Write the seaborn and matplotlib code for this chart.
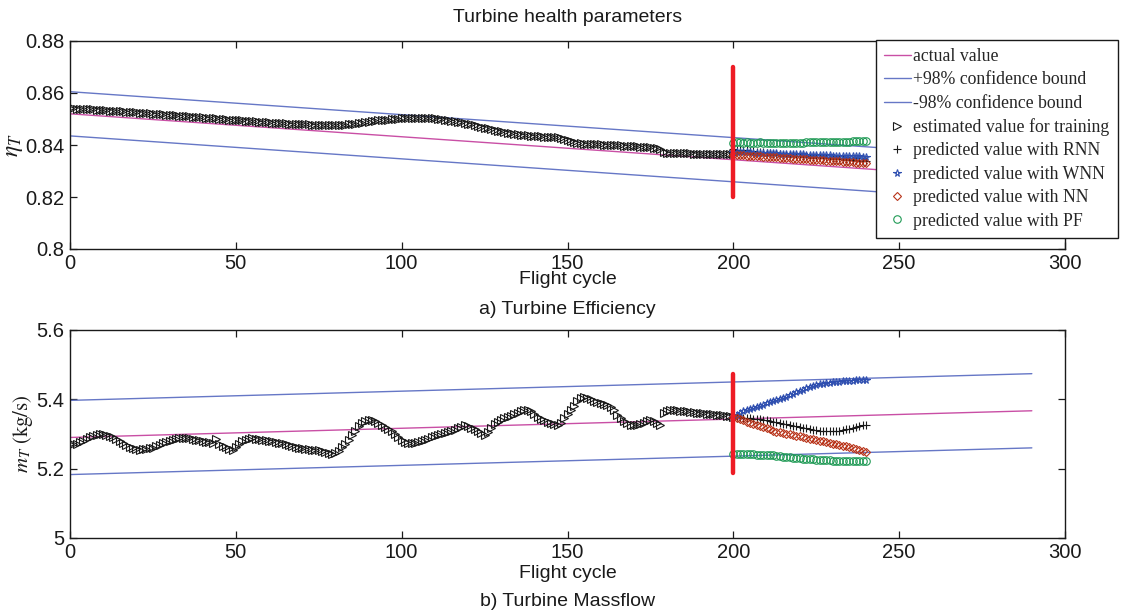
import matplotlib
matplotlib.use("Agg")
import matplotlib.pyplot as plt
import seaborn as sns
from matplotlib.ticker import FormatStrFormatter

sns.set_theme(style="ticks")
plt.rcParams["font.family"] = ["Liberation Sans", "DejaVu Sans"]
plt.rcParams["mathtext.fontset"] = "stix"

# ---------------- data ----------------
line_cycles = [0, 290]
eff_actual = [0.8520, 0.8264]
eff_upper = [0.8605, 0.8349]
eff_lower = [0.8435, 0.8179]
mass_actual = [5.290, 5.367]
mass_upper = [5.397, 5.474]
mass_lower = [5.183, 5.260]

train_cycles = list(range(0, 201))
eff_train = [
    0.8541, 0.8542, 0.8540, 0.8539, 0.8540, 0.8538, 0.8537, 0.8537, 0.8536, 0.8535, 0.8534,
    0.8533, 0.8532, 0.8531, 0.8531, 0.8530, 0.8529, 0.8528, 0.8527, 0.8527, 0.8526,
    0.8525, 0.8524, 0.8523, 0.8522, 0.8521, 0.8520, 0.8519, 0.8518, 0.8517, 0.8516,
    0.8515, 0.8514, 0.8513, 0.8512, 0.8511, 0.8510, 0.8509, 0.8508, 0.8507, 0.8506,
    0.8505, 0.8504, 0.8503, 0.8502, 0.8501, 0.8500, 0.8499, 0.8498, 0.8497, 0.8497,
    0.8496, 0.8495, 0.8494, 0.8493, 0.8492, 0.8491, 0.8490, 0.8489, 0.8488, 0.8487,
    0.8486, 0.8485, 0.8484, 0.8484, 0.8483, 0.8482, 0.8481, 0.8481, 0.8480, 0.8480,
    0.8479, 0.8479, 0.8478, 0.8478, 0.8477, 0.8477, 0.8477, 0.8476, 0.8476, 0.8476,
    0.8477, 0.8477, 0.8478, 0.8479, 0.8480, 0.8482, 0.8484, 0.8486, 0.8488, 0.8490,
    0.8492, 0.8494, 0.8495, 0.8496, 0.8497, 0.8498, 0.8499, 0.8500, 0.8501, 0.8502,
    0.8502, 0.8503, 0.8503, 0.8503, 0.8504, 0.8504, 0.8504, 0.8503, 0.8503, 0.8502,
    0.8501, 0.8500, 0.8498, 0.8496, 0.8494, 0.8492, 0.8490, 0.8488, 0.8485, 0.8482,
    0.8479, 0.8476, 0.8473, 0.8470, 0.8467, 0.8464, 0.8461, 0.8458, 0.8455, 0.8452,
    0.8449, 0.8447, 0.8445, 0.8443, 0.8441, 0.8440, 0.8438, 0.8437, 0.8436, 0.8435,
    0.8434, 0.8433, 0.8432, 0.8431, 0.8431, 0.8430, 0.8430, 0.8428, 0.8425, 0.8420,
    0.8415, 0.8411, 0.8408, 0.8406, 0.8405, 0.8404, 0.8404, 0.8403, 0.8402, 0.8402,
    0.8401, 0.8401, 0.8400, 0.8400, 0.8399, 0.8399, 0.8398, 0.8397, 0.8397, 0.8396,
    0.8395, 0.8394, 0.8393, 0.8392, 0.8391, 0.8390, 0.8388, 0.8385, 0.8372, 0.8371,
    0.8371, 0.8370, 0.8370, 0.8369, 0.8369, 0.8368, 0.8368, 0.8367, 0.8367, 0.8367,
    0.8366, 0.8366, 0.8366, 0.8365, 0.8365, 0.8365, 0.8364, 0.8364, 0.8364, 0.8364,
]
mass_train = [
    5.272, 5.270, 5.272, 5.276, 5.281, 5.286, 5.291, 5.295, 5.298, 5.300, 5.299,
    5.297, 5.294, 5.290, 5.285, 5.279, 5.273, 5.268, 5.263, 5.259, 5.256,
    5.255, 5.256, 5.257, 5.259, 5.261, 5.265, 5.269, 5.274, 5.278, 5.281,
    5.284, 5.286, 5.288, 5.289, 5.289, 5.288, 5.286, 5.284, 5.282, 5.280,
    5.278, 5.276, 5.274, 5.285, 5.270, 5.266, 5.262, 5.258, 5.255, 5.262,
    5.272, 5.279, 5.284, 5.287, 5.288, 5.287, 5.286, 5.284, 5.282, 5.281,
    5.279, 5.277, 5.275, 5.273, 5.270, 5.268, 5.266, 5.263, 5.261, 5.259,
    5.258, 5.256, 5.255, 5.254, 5.253, 5.251, 5.248, 5.245, 5.241, 5.245,
    5.252, 5.262, 5.272, 5.284, 5.297, 5.310, 5.322, 5.331, 5.337, 5.340,
    5.341, 5.338, 5.333, 5.327, 5.321, 5.315, 5.308, 5.300, 5.291, 5.282,
    5.276, 5.273, 5.273, 5.275, 5.278, 5.281, 5.284, 5.287, 5.290, 5.293,
    5.296, 5.299, 5.302, 5.305, 5.308, 5.312, 5.316, 5.320, 5.325, 5.322,
    5.318, 5.313, 5.308, 5.302, 5.296, 5.305, 5.318, 5.329, 5.335, 5.340,
    5.345, 5.349, 5.353, 5.357, 5.361, 5.365, 5.368, 5.369, 5.365, 5.358,
    5.350, 5.344, 5.339, 5.335, 5.331, 5.328, 5.326, 5.333, 5.345, 5.358,
    5.370, 5.382, 5.394, 5.403, 5.407, 5.405, 5.400, 5.395, 5.391, 5.388,
    5.386, 5.384, 5.378, 5.368, 5.356, 5.345, 5.337, 5.331, 5.327, 5.325,
    5.326, 5.329, 5.333, 5.337, 5.339, 5.338, 5.333, 5.325, 5.362, 5.365,
    5.368, 5.369, 5.368, 5.367, 5.366, 5.365, 5.364, 5.363, 5.362, 5.361,
    5.360, 5.359, 5.358, 5.357, 5.356, 5.355, 5.354, 5.352, 5.351, 5.350,
]

pred_cycles = list(range(200, 241))
eff_rnn = [
    0.8383, 0.8382, 0.8381, 0.8380, 0.8379, 0.8378, 0.8376, 0.8375, 0.8373, 0.8372, 0.8370,
    0.8369, 0.8367, 0.8366, 0.8364, 0.8363, 0.8362, 0.8361, 0.8360, 0.8359, 0.8358,
    0.8357, 0.8356, 0.8355, 0.8354, 0.8353, 0.8352, 0.8351, 0.8350, 0.8349, 0.8348,
    0.8347, 0.8346, 0.8345, 0.8344, 0.8343, 0.8342, 0.8341, 0.8340, 0.8340, 0.8339,
]
eff_wnn = [
    0.8374, 0.8374, 0.8373, 0.8373, 0.8372, 0.8372, 0.8371, 0.8371, 0.8370, 0.8370, 0.8369,
    0.8369, 0.8368, 0.8368, 0.8367, 0.8367, 0.8366, 0.8366, 0.8365, 0.8365, 0.8364,
    0.8364, 0.8363, 0.8363, 0.8362, 0.8362, 0.8361, 0.8361, 0.8360, 0.8360, 0.8359,
    0.8359, 0.8358, 0.8358, 0.8357, 0.8357, 0.8356, 0.8356, 0.8356, 0.8355, 0.8355,
]
eff_nn = [
    0.8362, 0.8361, 0.8360, 0.8360, 0.8359, 0.8358, 0.8357, 0.8357, 0.8356, 0.8355, 0.8354,
    0.8353, 0.8353, 0.8352, 0.8351, 0.8350, 0.8349, 0.8349, 0.8348, 0.8347, 0.8346,
    0.8345, 0.8345, 0.8344, 0.8343, 0.8342, 0.8341, 0.8341, 0.8340, 0.8339, 0.8338,
    0.8337, 0.8337, 0.8336, 0.8335, 0.8334, 0.8333, 0.8332, 0.8331, 0.8330, 0.8329,
]
eff_pf = [
    0.8409, 0.8410, 0.8410, 0.8409, 0.8410, 0.8409, 0.8409, 0.8409, 0.8410, 0.8409, 0.8409,
    0.8409, 0.8409, 0.8408, 0.8409, 0.8409, 0.8409, 0.8409, 0.8409, 0.8409, 0.8409,
    0.8409, 0.8410, 0.8410, 0.8410, 0.8410, 0.8411, 0.8411, 0.8411, 0.8411, 0.8412,
    0.8412, 0.8412, 0.8413, 0.8413, 0.8413, 0.8414, 0.8414, 0.8415, 0.8415, 0.8416,
]
mass_rnn = [
    5.350, 5.349, 5.348, 5.347, 5.346, 5.345, 5.344, 5.343, 5.342, 5.341, 5.340,
    5.338, 5.336, 5.334, 5.332, 5.330, 5.328, 5.326, 5.324, 5.322, 5.320,
    5.318, 5.316, 5.314, 5.312, 5.311, 5.310, 5.309, 5.309, 5.309, 5.309,
    5.309, 5.310, 5.311, 5.313, 5.315, 5.318, 5.321, 5.324, 5.326, 5.327,
]
mass_wnn = [
    5.350, 5.356, 5.361, 5.365, 5.369, 5.373, 5.376, 5.379, 5.382, 5.385, 5.388,
    5.391, 5.394, 5.397, 5.400, 5.404, 5.408, 5.412, 5.416, 5.420, 5.424,
    5.428, 5.432, 5.435, 5.438, 5.441, 5.443, 5.445, 5.447, 5.448, 5.449,
    5.450, 5.451, 5.452, 5.453, 5.454, 5.454, 5.455, 5.456, 5.456, 5.457,
]
mass_nn = [
    5.350, 5.347, 5.343, 5.339, 5.335, 5.331, 5.328, 5.325, 5.322, 5.319, 5.316,
    5.313, 5.310, 5.307, 5.305, 5.303, 5.301, 5.299, 5.297, 5.295, 5.293,
    5.291, 5.289, 5.287, 5.285, 5.283, 5.281, 5.279, 5.277, 5.274, 5.272,
    5.270, 5.268, 5.266, 5.264, 5.262, 5.259, 5.256, 5.253, 5.250, 5.247,
]
mass_pf = [
    5.242, 5.242, 5.242, 5.241, 5.241, 5.241, 5.241, 5.240, 5.240, 5.240, 5.239,
    5.239, 5.238, 5.237, 5.236, 5.235, 5.234, 5.233, 5.232, 5.231, 5.230,
    5.229, 5.228, 5.227, 5.227, 5.226, 5.225, 5.225, 5.224, 5.224, 5.223,
    5.223, 5.222, 5.222, 5.222, 5.221, 5.221, 5.221, 5.221, 5.221, 5.221,
]

start_cycle = [200, 200]
eff_start = [0.820, 0.870]
mass_start = [5.187, 5.473]

x_ticks = [0, 50, 100, 150, 200, 250, 300]
eff_ticks = [0.80, 0.82, 0.84, 0.86, 0.88]
mass_ticks = [5.0, 5.2, 5.4, 5.6]

labels = [
    "actual value",
    "+98% confidence bound",
    "-98% confidence bound",
    "estimated value for training",
    "predicted value with RNN",
    "predicted value with WNN",
    "predicted value with NN",
    "predicted value with PF",
]

# ---------------- styling ----------------
C_ACT = "#c94fa5"
C_BND = "#6677c6"
C_RED = "#ee1c25"
C_WNN = "#2f4fb0"
C_NN = "#b8341a"
C_PF = "#1f9a55"

W, H = 1121, 613
fig = plt.figure(figsize=(W / 100, H / 100), dpi=100)
ax1 = fig.add_axes([70 / W, 1 - 249 / H, 995 / W, 208 / H])
ax2 = fig.add_axes([70 / W, 1 - 538 / H, 995 / W, 208 / H])


def draw(ax, actual, upper, lower, train, rnn, wnn, nn, pf, start, lab):
    kw = dict(ax=ax, estimator=None, sort=False, legend=False)
    sns.lineplot(x=line_cycles, y=actual, color=C_ACT, lw=1.0, label=lab[0], **kw)
    sns.lineplot(x=line_cycles, y=upper, color=C_BND, lw=1.0, label=lab[1], **kw)
    sns.lineplot(x=line_cycles, y=lower, color=C_BND, lw=1.0, label=lab[2], **kw)
    mk = dict(linestyle="none", markersize=5.4, markeredgewidth=0.8)
    sns.lineplot(x=train_cycles, y=train, marker=">", color="k",
                 markerfacecolor="none", markeredgecolor="k", label=lab[3], **mk, **kw)
    sns.lineplot(x=pred_cycles, y=rnn, marker="+", color="k",
                 markeredgecolor="k", label=lab[4], **mk, **kw)
    sns.lineplot(x=pred_cycles, y=wnn, marker="*", color=C_WNN,
                 markerfacecolor="none", markeredgecolor=C_WNN, label=lab[5], **mk, **kw)
    sns.lineplot(x=pred_cycles, y=nn, marker="D", color=C_NN,
                 markerfacecolor="none", markeredgecolor=C_NN, label=lab[6],
                 linestyle="none", markersize=4.2, markeredgewidth=0.8, **kw)
    sns.lineplot(x=pred_cycles, y=pf, marker="o", color=C_PF,
                 markerfacecolor="none", markeredgecolor=C_PF, label=lab[7], **mk, **kw)
    sns.lineplot(x=start_cycle, y=start, color=C_RED, lw=3.2, **kw)


draw(ax1, eff_actual, eff_upper, eff_lower, eff_train, eff_rnn, eff_wnn, eff_nn,
     eff_pf, eff_start, labels)
draw(ax2, mass_actual, mass_upper, mass_lower, mass_train, mass_rnn, mass_wnn, mass_nn,
     mass_pf, mass_start, [None] * 8)

for ax, yt, yl in [(ax1, eff_ticks, (0.80, 0.88)), (ax2, mass_ticks, (5.0, 5.6))]:
    ax.set_xlim(0, 300)
    ax.set_ylim(*yl)
    ax.set_xticks(x_ticks)
    ax.set_yticks(yt)
    ax.yaxis.set_major_formatter(FormatStrFormatter("%g"))
    ax.tick_params(direction="in", top=True, right=True, length=5, width=0.9,
                   labelsize=14.5, colors="k")
    ax.tick_params(axis="x", pad=3.5)
    ax.tick_params(axis="y", pad=4)
    for s in ax.spines.values():
        s.set_visible(True)
        s.set_color("k")
        s.set_linewidth(1.0)
    ax.set_facecolor("white")
    ax.set_xlabel("Flight cycle", fontsize=14, color="k")

ax1.xaxis.set_label_coords(0.5, -0.145)
ax2.xaxis.set_label_coords(0.5, -0.17)
for ax in (ax1, ax2):
    ax.xaxis.label.set_verticalalignment("center")

ax1.set_ylabel(r"$\eta_T$", fontsize=17, labelpad=0, color="k")
ax2.set_ylabel(r"$m_T\ \mathrm{(kg/s)}$", fontsize=15, labelpad=1, color="k")

ax1.text(0.5, -0.29, "a) Turbine Efficiency", transform=ax1.transAxes,
         ha="center", va="center", fontsize=14, color="k")
ax2.text(0.5, -0.305, "b) Turbine Massflow", transform=ax2.transAxes,
         ha="center", va="center", fontsize=14, color="k")
fig.text(568 / W, 1 - 18 / H, "Turbine health parameters", ha="center", va="center",
         fontsize=14, color="k")

handles = ax1.get_lines()[:8]
leg = ax1.legend(handles, labels, loc="upper left",
                 bbox_to_anchor=(876 / W, 1 - 40 / H), bbox_transform=fig.transFigure,
                 borderaxespad=0, frameon=True, fancybox=False, framealpha=1,
                 edgecolor="k", prop={"family": "Liberation Serif", "size": 12.8},
                 handlelength=1.5, handletextpad=0.15, labelspacing=0.36,
                 borderpad=0.45, numpoints=1)
leg.get_frame().set_linewidth(1.0)
leg.set_zorder(10)

fig.savefig("out.png", dpi=100, facecolor="white")
